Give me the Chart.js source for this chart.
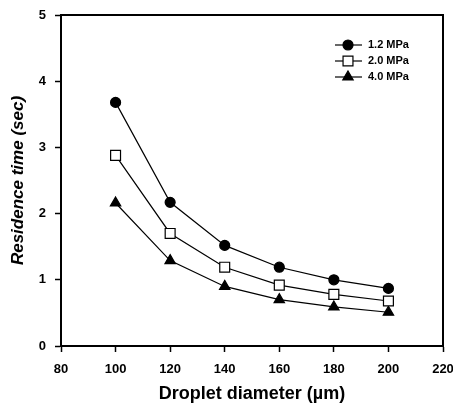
<!DOCTYPE html>
<html>
<head>
<meta charset="utf-8">
<script src="https://cdn.jsdelivr.net/npm/chart.js@4"></script>
<style>
    body { margin: 0; background: #fff; }
</style>
</head>
<body>
<canvas id="residenceChart" width="453" height="412"></canvas>
<script>
// droplet diameter (um)
var diameters = [100, 120, 140, 160, 180, 200];
// residence time (sec) for each pressure
var time12 = [3.68, 2.17, 1.52, 1.19, 1.00, 0.87];
var time20 = [2.88, 1.70, 1.19, 0.92, 0.78, 0.68];
var time40 = [2.16, 1.29, 0.90, 0.70, 0.59, 0.51];
var seriesNames = ['1.2 MPa', '2.0 MPa', '4.0 MPa'];
var xTicks = [80, 100, 120, 140, 160, 180, 200, 220];
var yTicks = [0, 1, 2, 3, 4, 5];

function toPoints(ys) {
    return diameters.map(function (d, i) { return { x: d, y: ys[i] }; });
}

var markerStyles = [
    { pointStyle: 'circle', radius: 5, fill: '#000' },
    { pointStyle: 'rect', radius: 7, fill: '#fff' },
    { pointStyle: 'triangle', radius: 6, fill: '#000' }
];

var datasets = [time12, time20, time40].map(function (ys, i) {
    var m = markerStyles[i];
    return {
        label: seriesNames[i],
        data: toPoints(ys),
        borderColor: '#000',
        borderWidth: 1.2,
        pointStyle: m.pointStyle,
        pointRadius: m.radius,
        pointBackgroundColor: m.fill,
        pointBorderColor: '#000',
        pointBorderWidth: 1.2,
        fill: false,
        tension: 0
    };
});

// frame around the plot + hand drawn legend (line through marker)
var framePlugin = {
    id: 'frame',
    afterDraw: function (chart) {
        var ctx = chart.ctx;
        var a = chart.chartArea;
        ctx.save();
        ctx.strokeStyle = '#000';
        ctx.lineWidth = 2;
        ctx.strokeRect(a.left, a.top, a.right - a.left, a.bottom - a.top);

        var lx = a.right - 108;
        var ly = a.top + 30;
        ctx.font = 'bold 11px "Liberation Sans", Arial, sans-serif';
        ctx.textBaseline = 'middle';
        chart.data.datasets.forEach(function (ds, i) {
            var y = ly + i * 16;
            ctx.lineWidth = 1.2;
            ctx.strokeStyle = '#000';
            ctx.beginPath();
            ctx.moveTo(lx, y);
            ctx.lineTo(lx + 27, y);
            ctx.stroke();
            ctx.fillStyle = ds.pointBackgroundColor;
            Chart.helpers.drawPoint(ctx, {
                pointStyle: ds.pointStyle,
                radius: ds.pointRadius,
                rotation: 0,
                borderWidth: 1.2
            }, lx + 13, y);
            ctx.fillStyle = '#000';
            ctx.fillText(ds.label, lx + 33, y);
        });
        ctx.restore();
    }
};

var tickFont = { family: '"Liberation Sans", Arial, sans-serif', size: 13, weight: 'bold' };

var ctx = document.getElementById('residenceChart').getContext('2d');
var residenceChart = new Chart(ctx, {
    type: 'line',
    data: { datasets: datasets },
    options: {
        responsive: false,
        animation: false,
        layout: { padding: { top: 15, right: 10, left: 0, bottom: 0 } },
        plugins: {
            legend: { display: false },
            tooltip: { enabled: false }
        },
        scales: {
            x: {
                type: 'linear',
                min: 80,
                max: 220,
                afterBuildTicks: function (scale) {
                    scale.ticks = xTicks.map(function (v) { return { value: v }; });
                },
                afterFit: function (scale) {
                    scale.height = 66;
                    scale.paddingLeft = 0;
                    scale.paddingRight = 0;
                },
                grid: { drawOnChartArea: false, color: '#000', tickLength: 6, tickWidth: 1.5 },
                border: { color: '#000', width: 2 },
                ticks: { color: '#000', font: tickFont, padding: 10, maxRotation: 0 },
                title: {
                    display: true,
                    text: 'Droplet diameter (\u00b5m)',
                    color: '#000',
                    font: { family: '"Liberation Sans", Arial, sans-serif', size: 18, weight: 'bold' },
                    padding: { top: 0, bottom: 7 }
                }
            },
            y: {
                min: 0,
                max: 5,
                afterBuildTicks: function (scale) {
                    scale.ticks = yTicks.map(function (v) { return { value: v }; });
                },
                afterFit: function (scale) {
                    scale.width = 61;
                    scale.paddingTop = 0;
                    scale.paddingBottom = 0;
                },
                grid: { drawOnChartArea: false, color: '#000', tickLength: 6, tickWidth: 1.5 },
                border: { color: '#000', width: 2 },
                ticks: { color: '#000', font: tickFont, padding: 9 },
                title: {
                    display: true,
                    text: 'Residence time (sec)',
                    color: '#000',
                    font: { family: '"Liberation Sans", Arial, sans-serif', size: 17, weight: 'bold', style: 'italic' },
                    padding: { top: 8, bottom: 0 }
                }
            }
        }
    },
    plugins: [framePlugin]
});
</script>
</body>
</html>
